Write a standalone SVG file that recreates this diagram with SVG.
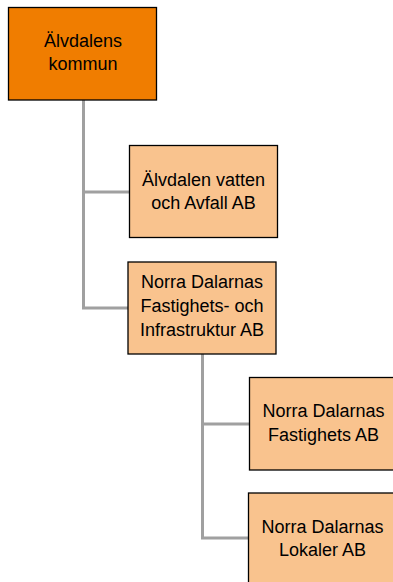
<svg xmlns="http://www.w3.org/2000/svg" width="393" height="582" viewBox="0 0 393 582">
<style>
.box{stroke:#000;stroke-width:1.3}
.top{fill:#F07D00}
.sub{fill:#F9C38E}
.lbl{font-family:"Liberation Sans",Arial,sans-serif;font-size:18px;fill:#000;text-anchor:middle}
.con{fill:none;stroke:#A0A0A0;stroke-width:3}
</style>
<rect width="393" height="582" fill="#fff"/>
<g id="connectors">
<path class="con" d="M83.5,100 V308 H128 M83.5,192 H129.5"/>
<path class="con" d="M202.5,354 V538 H248 M202.5,424 H249.5"/>
</g>
<g id="n1">
<rect class="box top" x="8.5" y="7.5" width="148" height="92.5"/>
<text class="lbl" x="83" y="47">Älvdalens</text>
<text class="lbl" x="83" y="70">kommun</text>
</g>
<g id="n2">
<rect class="box sub" x="129.5" y="145.5" width="148" height="92"/>
<text class="lbl" x="203.5" y="186">Älvdalen vatten</text>
<text class="lbl" x="203.5" y="209">och Avfall AB</text>
</g>
<g id="n3">
<rect class="box sub" x="128" y="262" width="148" height="92"/>
<text class="lbl" x="202" y="288">Norra Dalarnas</text>
<text class="lbl" x="202" y="312">Fastighets- och</text>
<text class="lbl" x="202" y="336">Infrastruktur AB</text>
</g>
<g id="n4">
<rect class="box sub" x="249.5" y="377.5" width="148" height="92.5"/>
<text class="lbl" x="323.5" y="417">Norra Dalarnas</text>
<text class="lbl" x="323.5" y="441">Fastighets AB</text>
</g>
<g id="n5">
<rect class="box sub" x="248.5" y="493" width="148" height="95"/>
<text class="lbl" x="322.5" y="533">Norra Dalarnas</text>
<text class="lbl" x="322.5" y="556">Lokaler AB</text>
</g>
</svg>
